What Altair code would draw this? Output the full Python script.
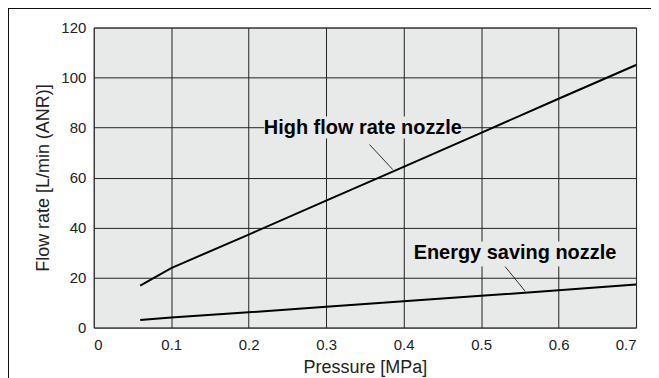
import altair as alt
import pandas as pd

# Data
pressure_high = [0.06, 0.1, 0.2, 0.3, 0.4, 0.5, 0.6, 0.7]
flow_high = [16.8, 23.8, 37.2, 50.8, 64.3, 77.9, 91.5, 105.0]
pressure_eco = [0.06, 0.1, 0.2, 0.3, 0.4, 0.5, 0.6, 0.7]
flow_eco = [3.0, 4.0, 6.1, 8.3, 10.5, 12.7, 14.9, 17.2]

x_ticks = [0, 0.1, 0.2, 0.3, 0.4, 0.5, 0.6, 0.7]
y_ticks = [0, 20, 40, 60, 80, 100, 120]

# Annotations (data coordinates)
ann_text = ["High flow rate nozzle", "Energy saving nozzle"]
ann_x = [0.3474, 0.5437]
ann_y = [80.0, 30.0]
box_x1 = [0.2201, 0.4105]
box_x2 = [0.4749, 0.6769]
box_y1 = [75.6, 24.4]
box_y2 = [84.4, 34.4]
lead_x1 = [0.356, 0.531]
lead_y1 = [73.2, 24.4]
lead_x2 = [0.386, 0.557]
lead_y2 = [63.2, 14.5]

BG = "#e8e9e9"
FONT = "Liberation Sans"

df = pd.concat([
    pd.DataFrame({"p": pressure_high, "q": flow_high, "s": "high"}),
    pd.DataFrame({"p": pressure_eco, "q": flow_eco, "s": "eco"}),
])
ann = pd.DataFrame({
    "t": ann_text, "x": ann_x, "y": ann_y,
    "bx1": box_x1, "bx2": box_x2, "by1": box_y1, "by2": box_y2,
    "lx1": lead_x1, "ly1": lead_y1, "lx2": lead_x2, "ly2": lead_y2,
})

xs = alt.Scale(domain=[0, 0.7], nice=False, zero=False)
ys = alt.Scale(domain=[0, 120], nice=False)

x_axis = alt.Axis(values=x_ticks, title="Pressure [MPa]",
                  labelExpr="datum.value == 0 ? '0' : format(datum.value, '.1f')",
                  grid=True, gridColor="#222", gridWidth=1, gridOpacity=1,
                  ticks=False, domain=False, labelFontSize=15, labelColor="#222",
                  labelPadding=10, labelFont=FONT, titleFont=FONT,
                  titleFontSize=18, titleFontWeight="normal", titleColor="#222",
                  titlePadding=6)
y_axis = alt.Axis(values=y_ticks, title="Flow rate [L/min (ANR)]",
                  grid=True, gridColor="#222", gridWidth=1, gridOpacity=1,
                  ticks=False, domain=False, labelFontSize=15, labelColor="#222",
                  labelPadding=8, labelFont=FONT, titleFont=FONT,
                  titleFontSize=18, titleFontWeight="normal", titleColor="#222",
                  titlePadding=8)

lines = alt.Chart(df).mark_line(color="black", strokeWidth=2).encode(
    x=alt.X("p:Q", scale=xs, axis=x_axis),
    y=alt.Y("q:Q", scale=ys, axis=y_axis),
    detail="s:N",
)

boxes = alt.Chart(ann).mark_rect(fill=BG).encode(
    x=alt.X("bx1:Q", scale=xs), x2="bx2:Q",
    y=alt.Y("by1:Q", scale=ys), y2="by2:Q",
)

texts = alt.Chart(ann).mark_text(font=FONT, fontSize=20, fontWeight="bold",
                                 color="black", align="center",
                                 baseline="middle").encode(
    x=alt.X("x:Q", scale=xs), y=alt.Y("y:Q", scale=ys), text="t:N")

leaders = alt.Chart(ann).mark_rule(color="black", strokeWidth=0.8).encode(
    x=alt.X("lx1:Q", scale=xs), y=alt.Y("ly1:Q", scale=ys),
    x2="lx2:Q", y2="ly2:Q")

frame_top = alt.Chart(ann).mark_rule(color="black", strokeWidth=1.5).encode(
    x=alt.value(-86), x2=alt.value(560), y=alt.value(-19.5))
frame_left = alt.Chart(ann).mark_rule(color="black", strokeWidth=1.5).encode(
    x=alt.value(-86), y=alt.value(-19.5), y2=alt.value(380))

chart = alt.layer(boxes, lines, texts, leaders, frame_top, frame_left).properties(
    width=544, height=301,
    autosize=alt.AutoSizeParams(type="none"),
    padding={"left": 86, "top": 19, "right": 15, "bottom": 54},
).configure_view(fill=BG, stroke="#555", strokeWidth=1)

chart.save("out.html", embed_options={"renderer": "svg", "actions": False})
